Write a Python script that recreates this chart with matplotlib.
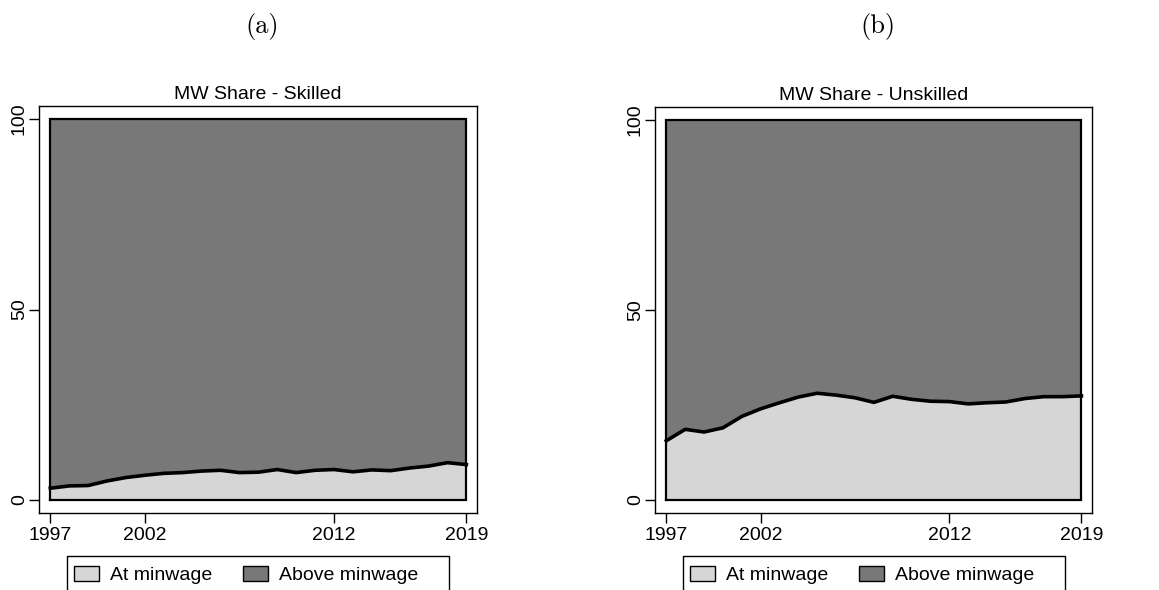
import matplotlib
matplotlib.use("Agg")
import matplotlib.pyplot as plt
from matplotlib.patches import Patch, Rectangle
import numpy as np

years = list(range(1997, 2020))
skilled_at_min = [3.1, 3.7, 3.8, 5.0, 5.9, 6.5, 7.0, 7.2, 7.6, 7.8, 7.2, 7.3,
                  8.0, 7.2, 7.8, 8.0, 7.4, 7.9, 7.7, 8.4, 8.9, 9.8, 9.3]
unskilled_at_min = [15.6, 18.6, 17.9, 19.0, 22.0, 24.0, 25.6, 27.1, 28.1, 27.6,
                    26.9, 25.7, 27.3, 26.5, 26.0, 25.9, 25.3, 25.6, 25.8, 26.7,
                    27.2, 27.2, 27.4]
panel_titles = ["MW Share - Skilled", "MW Share - Unskilled"]
panel_letters = ["(a)", "(b)"]
series_labels = ["At minwage", "Above minwage"]
xticks = [1997, 2002, 2012, 2019]
yticks = [0, 50, 100]

LIGHT = "#d6d6d6"
DARK = "#787878"
FONT = "Liberation Sans"
FS = 14

fig = plt.figure(figsize=(11.59, 5.90), dpi=100)
W, H = 1159, 590

def px_axes(l, t, r, b):
    return fig.add_axes([l / W, 1 - b / H, (r - l) / W, (b - t) / H])

axes = [px_axes(39, 106, 477, 513), px_axes(655, 107, 1092, 513)]
data = [skilled_at_min, unskilled_at_min]

for ax, vals, title, letter in zip(axes, data, panel_titles, panel_letters):
    x = np.array(years)
    v = np.array(vals)
    ax.fill_between(x, 0, v, facecolor=LIGHT, edgecolor="none", zorder=2)
    ax.fill_between(x, v, 100, facecolor=DARK, edgecolor="none", zorder=2)
    ax.plot([x[0], x[-1], x[-1], x[0], x[0]], [0, 0, 100, 100, 0],
            color="black", lw=1.6, zorder=3, solid_joinstyle="miter")
    ax.plot(x, v, color="black", lw=2.6, zorder=4)
    ax.set_xlim(1996.4, 2019.56)
    ax.set_ylim(-3.41, 103.41)
    ax.set_xticks(xticks)
    ax.set_yticks(yticks)
    ax.set_xticklabels([str(t) for t in xticks], fontsize=FS, family=FONT)
    ax.set_yticklabels([str(t) for t in yticks], fontsize=FS, family=FONT,
                       rotation=90, va="center")
    ax.tick_params(axis="both", length=7, width=1.0, color="black")
    ax.tick_params(axis="x", pad=3)
    ax.tick_params(axis="y", pad=1)
    for s in ax.spines.values():
        s.set_linewidth(1.0)
        s.set_color("black")
    ax.set_title(title, fontsize=FS, family=FONT, pad=5)

    bb_ax = ax.get_window_extent()
    wpx, hpx = bb_ax.width, bb_ax.height
    handles = [Patch(facecolor=LIGHT, edgecolor="black", lw=1.0),
               Patch(facecolor=DARK, edgecolor="black", lw=1.0)]
    leg = ax.legend(handles, series_labels, loc="center left",
                    bbox_to_anchor=(35 / wpx, -62 / hpx),
                    ncol=2, frameon=False,
                    prop={"family": FONT, "size": FS},
                    handlelength=1.29, handleheight=0.82, handletextpad=0.57,
                    columnspacing=1.55, borderpad=0, borderaxespad=0)
    frame = Rectangle((28 / wpx, -43 / hpx), 382 / wpx, -60 / hpx,
                      transform=ax.transAxes, facecolor="none",
                      edgecolor="black", lw=1.0, clip_on=False)
    ax.add_patch(frame)
    bb = ax.get_position()
    fig.text((bb.x0 + bb.x1) / 2 + 4 / W, 1 - 27 / H, letter, ha="center",
             va="center", fontsize=19, family="cmr10")

fig.savefig("out.png", dpi=100)
